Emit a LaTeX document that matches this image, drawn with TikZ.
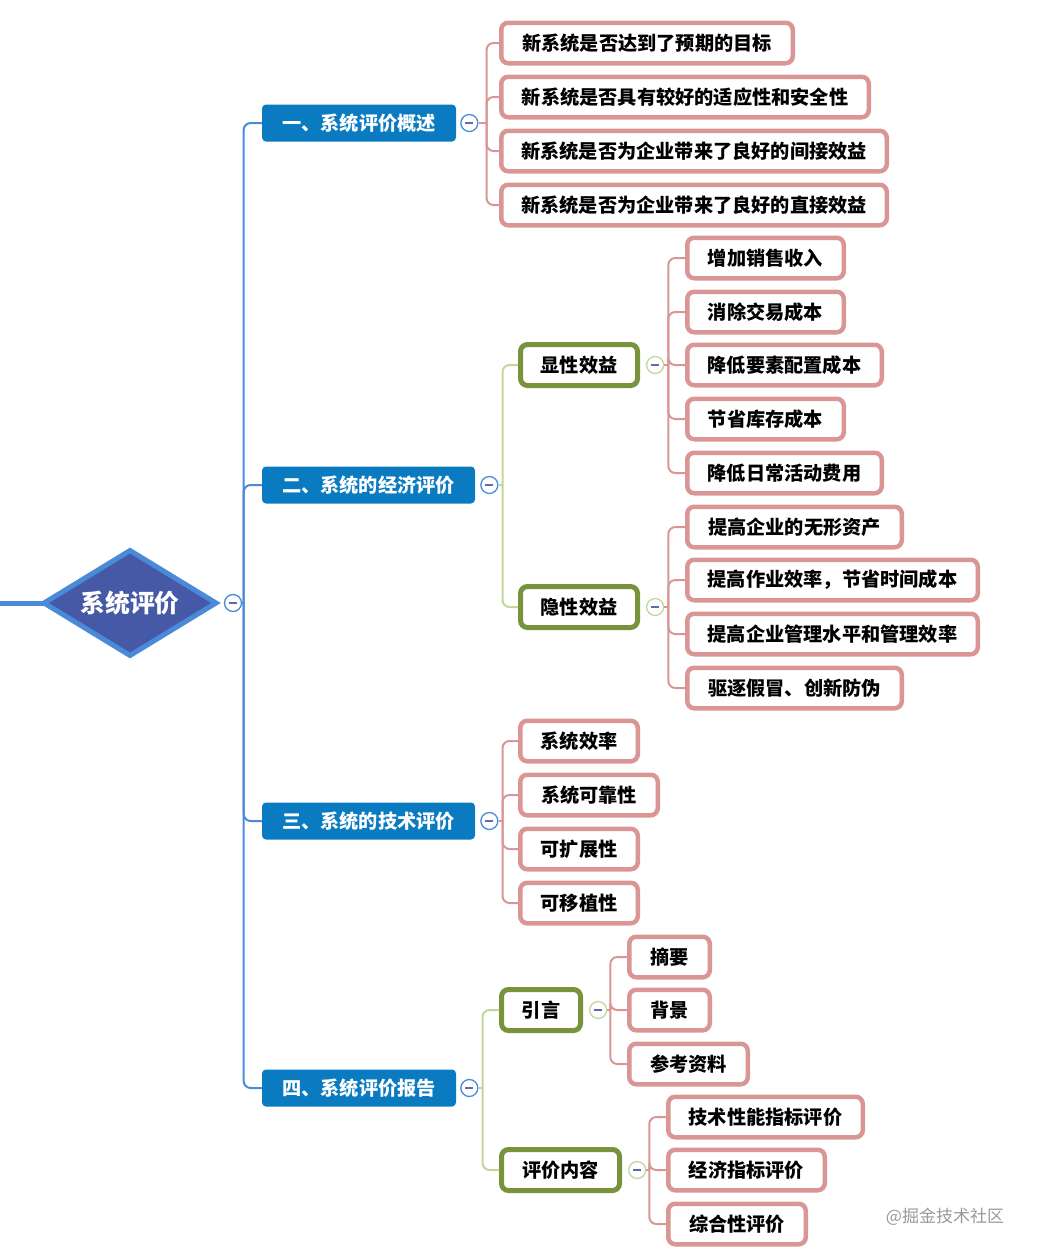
\documentclass[tikz,border=0pt]{standalone}
\usepackage{fontspec}
\setmainfont{Noto Sans CJK SC}
\usetikzlibrary{positioning,shapes.geometric}

\definecolor{lanxian}{HTML}{4A8AD8}
\definecolor{lanzi}{HTML}{4659A6}
\definecolor{lanti}{HTML}{0A7BC0}
\definecolor{fenhong}{HTML}{D99694}
\definecolor{lvbian}{HTML}{77933C}
\definecolor{lvxian}{HTML}{C3D69B}
\definecolor{jianhao}{HTML}{5B6BB2}

\tikzset{
  zi/.style={font=\bfseries\fontsize{19.2}{21}\selectfont},
  gen/.style={shape=diamond, aspect=1.7, draw=lanxian, fill=lanzi, line width=5pt,
    minimum width=174pt, minimum height=107pt, inner sep=0pt, text=white,
    font=\bfseries\fontsize{24.8}{27}\selectfont},
  yiji/.style={zi, fill=lanti, rounded corners=4pt, text=white,
    minimum height=37pt, inner sep=0pt},
  fen/.style={zi, draw=fenhong, line width=4.5pt, fill=white,
    rounded corners=7pt, minimum height=40.5pt, inner sep=0pt},
  lv/.style={zi, draw=lvbian, line width=5pt, fill=white,
    rounded corners=7pt, minimum height=41pt, inner sep=0pt},
  zd/.style={circle, draw=lanxian, fill=white, line width=1.3pt,
    minimum size=17pt, inner sep=0pt,
    path picture={\draw[jianhao,line width=1.3pt]
      ([xshift=-4pt]path picture bounding box.center) --
      ([xshift=4pt]path picture bounding box.center);}},
  zdlv/.style={zd, draw=lvxian},
  lanline/.style={lanxian, line width=2pt, rounded corners=7pt},
  fenline/.style={fenhong, line width=2pt, rounded corners=7pt},
  lvline/.style={lvxian, line width=2pt, rounded corners=7pt},
}

\begin{document}
\begin{tikzpicture}[x=1pt,y=-1pt]
  \useasboundingbox (0,0) rectangle (1040,1258);

  % root
  \coordinate (rukou) at (0,603);
  \draw[lanxian, line width=5pt] (rukou) -- (130,603);
  \node[gen] (gen) at (130,603) {系统评价};
  \node[zd] (z0) at (233,603) {};

  % first level
  \node[yiji, minimum width=194pt] (n1) at (359,123)  {一、系统评价概述};
  \node[yiji, minimum width=213pt] (n2) at (368.5,485) {二、系统的经济评价};
  \node[yiji, minimum width=213pt] (n3) at (368.5,821) {三、系统的技术评价};
  \node[yiji, minimum width=194pt] (n4) at (359,1088) {四、系统评价报告};
  \node[zd, right=4pt of n1] (z1) {};
  \node[zd, right=5pt of n2] (z2) {};
  \node[zd, right=5pt of n3] (z3) {};
  \node[zd, right=4pt of n4] (z4) {};

  % 一
  \node[fen, minimum width=291.5pt] (a1) at (647,43)  {新系统是否达到了预期的目标};
  \node[fen, minimum width=367.5pt] (a2) at (685,97)  {新系统是否具有较好的适应性和安全性};
  \node[fen, minimum width=385.5pt] (a3) at (694,151) {新系统是否为企业带来了良好的间接效益};
  \node[fen, minimum width=385.5pt] (a4) at (694,205) {新系统是否为企业带来了良好的直接效益};

  % 二
  \node[lv, minimum width=117pt] (b1) at (579,365) {显性效益};
  \node[lv, minimum width=117pt] (b2) at (579,607) {隐性效益};
  \node[zdlv, right=6pt of b1] (zb1) {};
  \node[zdlv, right=6pt of b2] (zb2) {};
  \node[fen, minimum width=156.5pt] (b11) at (765.5,258) {增加销售收入};
  \node[fen, minimum width=156.5pt] (b12) at (765.5,312) {消除交易成本};
  \node[fen, minimum width=194.5pt] (b13) at (784.5,365) {降低要素配置成本};
  \node[fen, minimum width=156.5pt] (b14) at (765.5,419) {节省库存成本};
  \node[fen, minimum width=194.5pt] (b15) at (784.5,473) {降低日常活动费用};
  \node[fen, minimum width=214.5pt] (b21) at (794.5,527) {提高企业的无形资产};
  \node[fen, minimum width=290.5pt] (b22) at (832.5,580) {提高作业效率，节省时间成本};
  \node[fen, minimum width=290.5pt] (b23) at (832.5,634) {提高企业管理水平和管理效率};
  \node[fen, minimum width=214.5pt] (b24) at (794.5,688) {驱逐假冒、创新防伪};

  % 三
  \node[fen, minimum width=117.5pt] (c1) at (579,741) {系统效率};
  \node[fen, minimum width=137.5pt] (c2) at (589,795) {系统可靠性};
  \node[fen, minimum width=117.5pt] (c3) at (579,849) {可扩展性};
  \node[fen, minimum width=117.5pt] (c4) at (579,903) {可移植性};

  % 四
  \node[lv, minimum width=79pt]  (d1) at (541,1010)   {引言};
  \node[lv, minimum width=118pt] (d2) at (560.5,1170) {评价内容};
  \node[zdlv, right=6pt of d1] (zd1) {};
  \node[zdlv, right=6pt of d2] (zd2) {};
  \node[fen, minimum width=80.5pt]  (d11) at (669.5,957)  {摘要};
  \node[fen, minimum width=80.5pt]  (d12) at (669.5,1010) {背景};
  \node[fen, minimum width=118.5pt] (d13) at (688.5,1064) {参考资料};
  \node[fen, minimum width=194.5pt] (d21) at (765.5,1117) {技术性能指标评价};
  \node[fen, minimum width=156.5pt] (d22) at (746.5,1170) {经济指标评价};
  \node[fen, minimum width=137.5pt] (d23) at (737,1224)   {综合性评价};

  % connectors
  \coordinate (j0) at ([xshift=1.5pt]z0.east);
  \draw[lanline] (z0.east) -- (j0);
  \foreach \c in {n1,n2,n3,n4} \draw[lanline] (j0) |- (\c.west);

  \coordinate (j1) at ([xshift=8pt]z1.east);
  \draw[fenline] (z1.east) -- (j1);
  \foreach \c in {a1,a2,a3,a4} \draw[fenline] (j1) |- (\c.west);

  \coordinate (j2) at ([xshift=4pt]z2.east);
  \draw[lvline] (z2.east) -- (j2);
  \foreach \c in {b1,b2} \draw[lvline] (j2) |- (\c.west);

  \coordinate (jb1) at ([xshift=4pt]zb1.east);
  \draw[fenline] (zb1.east) -- (jb1);
  \foreach \c in {b11,b12,b13,b14,b15} \draw[fenline] (jb1) |- (\c.west);

  \coordinate (jb2) at ([xshift=4pt]zb2.east);
  \draw[fenline] (zb2.east) -- (jb2);
  \foreach \c in {b21,b22,b23,b24} \draw[fenline] (jb2) |- (\c.west);

  \coordinate (j3) at ([xshift=4pt]z3.east);
  \draw[fenline] (z3.east) -- (j3);
  \foreach \c in {c1,c2,c3,c4} \draw[fenline] (j3) |- (\c.west);

  \coordinate (j4) at ([xshift=4pt]z4.east);
  \draw[lvline] (z4.east) -- (j4);
  \foreach \c in {d1,d2} \draw[lvline] (j4) |- (\c.west);

  \coordinate (jd1) at ([xshift=3pt]zd1.east);
  \draw[fenline] (zd1.east) -- (jd1);
  \foreach \c in {d11,d12,d13} \draw[fenline] (jd1) |- (\c.west);

  \coordinate (jd2) at ([xshift=3pt]zd2.east);
  \draw[fenline] (zd2.east) -- (jd2);
  \foreach \c in {d21,d22,d23} \draw[fenline] (jd2) |- (\c.west);

  % watermark
  \node[text=black!40, font=\fontsize{17}{19}\selectfont] (shuiyin) at (945,1217) {@掘金技术社区};
\end{tikzpicture}
\end{document}
